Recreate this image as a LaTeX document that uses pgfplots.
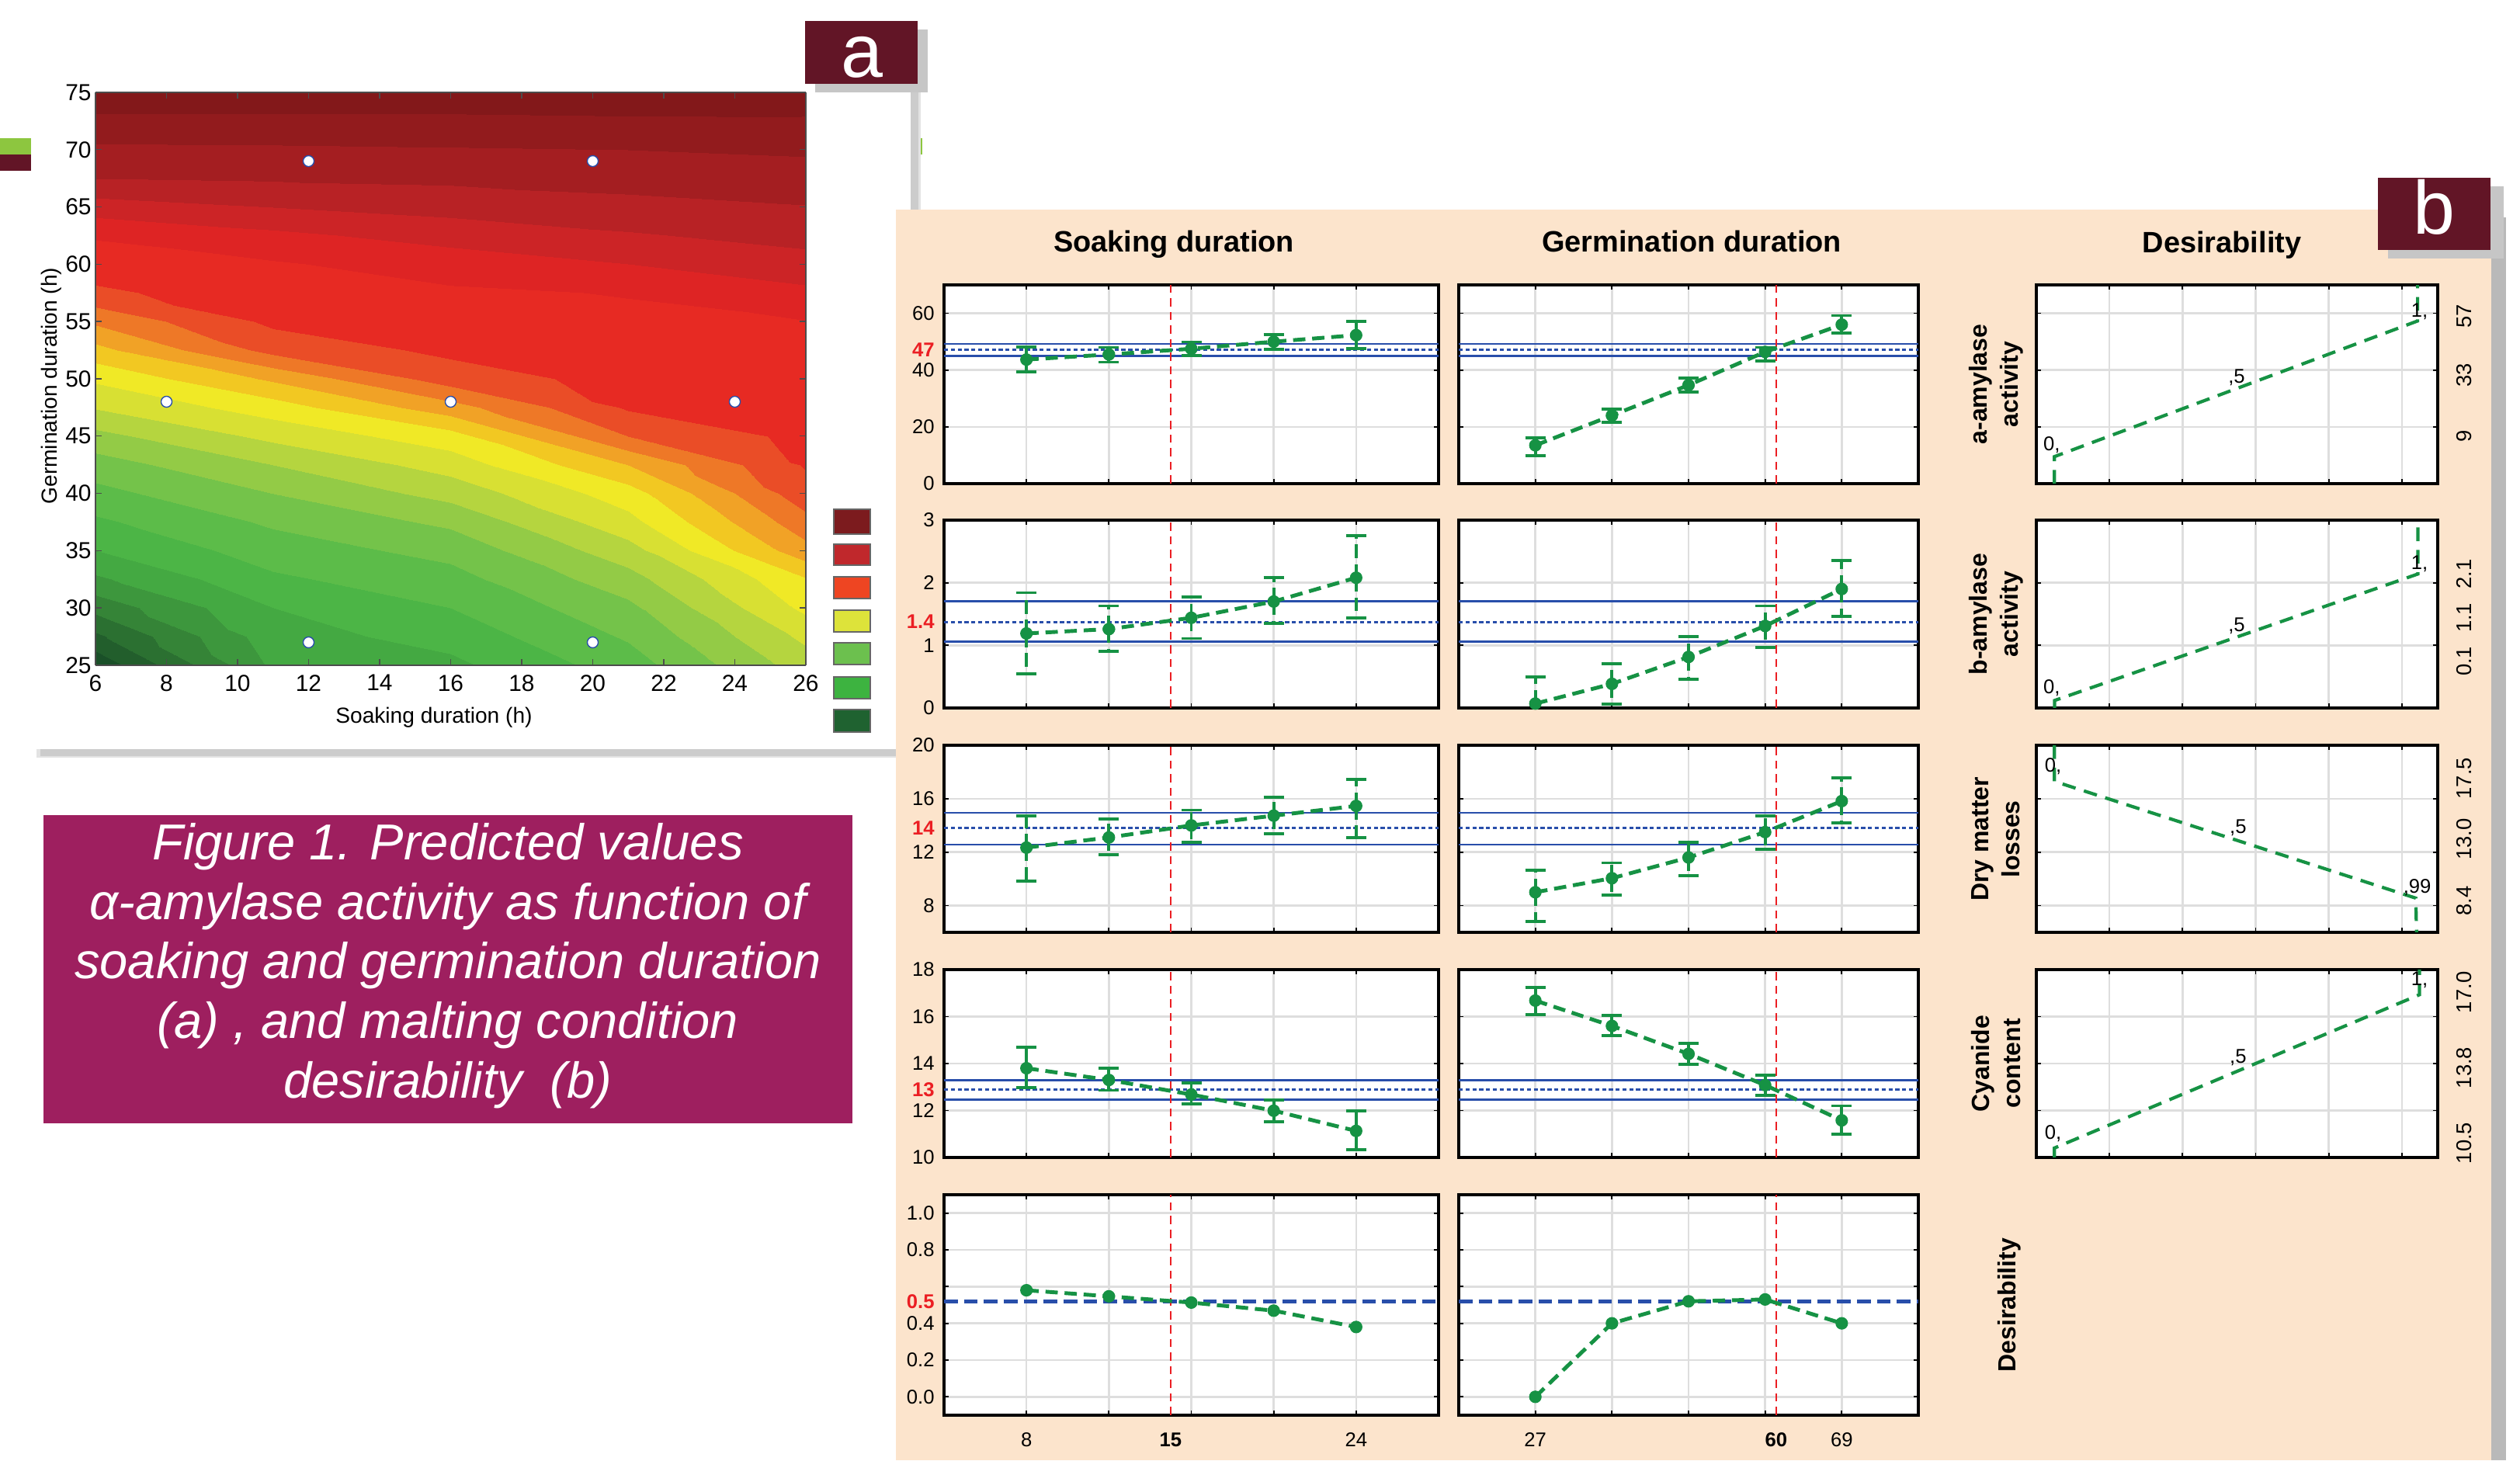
\documentclass[border=0pt]{standalone}
\usepackage{fontspec}
\setmainfont{Liberation Sans}
\usepackage{pgfplots}
\usepackage{pgfplotstable}
\pgfplotsset{compat=1.18}
\definecolor{pgreen}{RGB}{22,146,68}
\definecolor{pblue}{RGB}{40,78,170}
\definecolor{pred}{RGB}{235,30,35}
\definecolor{peach}{RGB}{252,228,204}
\definecolor{maroonbox}{RGB}{98,21,38}
\definecolor{capmag}{RGB}{158,31,95}
\definecolor{gridg}{RGB}{222,222,222}
\definecolor{decogreen}{RGB}{141,198,63}
\newcommand\tickfnt{\fontsize{7.3}{8.8}\selectfont}
\newcommand\rtickfnt{\fontsize{7.8}{9.4}\selectfont}
\newcommand\curvefnt{\fontsize{7.3}{8.8}\selectfont}

\pgfplotsset{
  /pgf/number format/assume math mode=true,
  pb/.style={scale only axis, anchor=south west, clip mode=individual,
    axis background/.style={fill=white},
    axis line style={line width=0.9pt, black},
    grid=major, major grid style={line width=0.7pt, draw=gridg},
    tick align=inside, major tick length=0.06cm, tick style={black, line width=0.5pt},
    tick label style={font=\tickfnt},
    xticklabel style={yshift=-0.1cm},
    xticklabels={}, yticklabels={}},
  cL/.style={xmin=4, xmax=28, xtick={8,12,16,20,24}, width=6.37cm},
  cM/.style={xmin=16.5, xmax=79.5, xtick={27,37.5,48,58.5,69}, width=5.92cm},
  cR/.style={xmin=0, xmax=5.49, xtick={1,2,3,4,5}, width=5.17cm},
  r1/.style={ymin=0, ymax=70, ytick={0,20,40,60}, height=2.56cm},
  r2/.style={ymin=0, ymax=3, ytick={0,1,2,3}, height=2.42cm},
  r3/.style={ymin=6, ymax=20, ytick={8,12,16,20}, height=2.41cm},
  r4/.style={ymin=10, ymax=18, ytick={10,12,14,16,18}, height=2.42cm},
  r5/.style={ymin=-0.1, ymax=1.1, ytick={0,0.2,0.4,0.6,0.8,1}, height=2.84cm},
  redx/.style={extra y tick style={grid=none, major tick length=0pt}},
  ser/.style={pgreen, line width=1.4pt, dash pattern=on 4.5pt off 2.5pt, mark=*, mark size=2.1pt,
    mark options={solid, fill=pgreen, draw=pgreen, line width=0.4pt}},
  eb/.style={error bars/.cd, y dir=both, y explicit,
    error bar style={line width=1.1pt, pgreen, solid},
    error mark options={rotate=90, mark size=3.7pt, line width=1.1pt, pgreen, solid}},
  ebd/.style={error bars/.cd, y dir=both, y explicit,
    error bar style={line width=1.1pt, pgreen, dash pattern=on 5pt off 2.2pt},
    error mark options={rotate=90, mark size=3.7pt, line width=1.1pt, pgreen, solid}},
  bsolid/.style={pblue, line width=0.8pt},
  bdot/.style={pblue, line width=0.9pt, dash pattern=on 1.5pt off 1pt},
  rline/.style={pred, line width=0.6pt, dash pattern=on 3pt off 2pt},
  dcur/.style={pgreen, line width=1.2pt, dash pattern=on 5pt off 3.2pt},
}

% ---------- data: panel b ----------
\pgfplotstableread{
x y lo hi
8 43.7 39.3 48.2
12 45.5 42.8 48.0
16 47.5 45.1 49.9
20 50.0 47.3 52.5
24 52.3 47.5 57.1
}\tLa
\pgfplotstableread{
x y lo hi
27 13.5 9.8 16.2
37.5 24.0 21.7 26.3
48 34.7 32.2 37.2
58.5 46.4 43.2 48.0
69 56.0 53.0 59.2
}\tMa
\pgfplotstableread{
x y lo hi
8 1.19 0.54 1.84
12 1.26 0.91 1.63
16 1.44 1.11 1.77
20 1.70 1.35 2.08
24 2.08 1.44 2.75
}\tLb
\pgfplotstableread{
x y lo hi
27 0.07 -0.36 0.50
37.5 0.385 0.065 0.71
48 0.815 0.46 1.14
58.5 1.31 0.97 1.63
69 1.90 1.46 2.35
}\tMb
\pgfplotstableread{
x y lo hi
8 12.34 9.84 14.73
12 13.1 11.82 14.48
16 14.0 12.76 15.15
20 14.73 13.38 16.1
24 15.46 13.07 17.43
}\tLc
\pgfplotstableread{
x y lo hi
27 9.0 6.8 10.67
37.5 10.05 8.8 11.2
48 11.6 10.26 12.76
58.5 13.5 12.2 14.7
69 15.82 14.2 17.55
}\tMc
\pgfplotstableread{
x y lo hi
8 13.8 12.98 14.68
12 13.3 12.86 13.8
16 12.68 12.27 13.16
20 11.99 11.53 12.46
24 11.13 10.32 11.99
}\tLd
\pgfplotstableread{
x y lo hi
27 16.68 16.09 17.24
37.5 15.6 15.2 16.04
48 14.41 13.97 14.87
58.5 13.08 12.64 13.5
69 11.58 11.0 12.2
}\tMd
\pgfplotstableread{
x y
8 0.58
12 0.547
16 0.513
20 0.469
24 0.38
}\tLe
\pgfplotstableread{
x y
27 0.0
37.5 0.40
48 0.52
58.5 0.53
69 0.40
}\tMe

% ---------- data: panel a (level of the predicted surface read from the map) ----------
\pgfplotstableread{
x y v
6 25 1
11 25 20.7
16 25 23
21 25 30
26 25 42
6 27.5 7.1
11 27.5 22.3
16 27.5 25.5
21 27.5 32.5
26 27.5 45.0
6 30 13.4
11 30 24
16 30 28
21 30 35
26 30 49.0
6 32.5 19.3
11 32.5 27.3
16 32.5 30.5
21 32.5 38.4
26 32.5 51.7
6 35 24
11 35 30
16 35 33.3
21 35 42.4
26 35 58.6
6 37.5 27.3
11 37.5 32.7
16 37.5 36.9
21 37.5 46.7
26 37.5 62.7
6 40 30.7
11 40 36
16 40 41.4
21 40 50.1
26 40 66.5
6 42.5 34.1
11 42.5 40
16 42.5 45.7
21 42.5 56
26 42.5 68.4
6 45 38.7
11 45 45.1
16 45 50.3
21 45 64
26 45 69.1
6 47.5 44.3
11 47.5 50
16 47.5 58.3
21 47.5 68.5
26 47.5 69.8
6 50 48.7
11 50 56.7
16 50 66
21 50 69.4
26 50 70.5
6 52.5 54.7
11 52.5 65.4
16 52.5 68.9
21 52.5 70.3
26 52.5 71.2
6 55 60.8
11 55 68.9
16 55 70.1
21 55 71.2
26 55 71.9
6 57.5 67.3
11 57.5 70.2
16 57.5 71.4
21 57.5 72.2
26 57.5 75.1
6 60 70.0
11 60 71.6
16 60 73.8
21 60 76
26 60 78.5
6 62.5 72.4
11 62.5 75.1
16 62.5 77.6
21 62.5 79.6
26 62.5 81.4
6 65 78.1
11 65 80
16 65 81.4
21 65 82.75
26 65 83.8
6 67.5 84
11 67.5 84.4
16 67.5 84.8
21 67.5 85.5
26 67.5 86.1
6 70 87.2
11 70 87.4
16 70 87.7
21 70 88
26 70 88.6
6 72.5 91.0
11 72.5 91.0
16 72.5 91.0
21 72.5 91.3
26 72.5 91.5
6 75 95
11 75 95
16 75 95
21 75 95
26 75 94.5
}\tContour

\begin{document}
\begin{tikzpicture}[x=1cm,y=1cm]
\useasboundingbox (0,0) rectangle (32.46,18.81);
\fill[white] (0,0) rectangle (32.46,18.81);
% decorative slide bars
\fill[decogreen] (0,16.82) rectangle (0.40,17.03);
\fill[maroonbox] (0,16.61) rectangle (0.40,16.82);
\fill[decogreen] (11.70,16.82) rectangle (11.88,17.03);
% ---------------- panel a ----------------
\fill[gray!22] (0.47,9.05) rectangle (11.86,18.22);
\fill[gray!40] (0.52,9.07) rectangle (11.83,18.18);
\fill[white] (0.41,9.16) rectangle (11.73,18.29);
\begin{axis}[scale only axis, anchor=south west, at={(1.23cm,10.24cm)},
  width=9.15cm, height=7.38cm, view={0}{90},
  xmin=6, xmax=26, ymin=25, ymax=75, zmin=-1, zmax=1,
  xtick={6,8,...,26}, ytick={25,30,...,75}, ztick=\empty,
  tick align=inside, major tick length=0.08cm,
  tick style={black!70, line width=0.4pt},
  tick label style={font=\fontsize{8.5}{10}\selectfont},
  yticklabel style={xshift=0.07cm},
  axis line style={line width=0.5pt, black!70},
  colormap={amy}{
    rgb255(0pt)=(26,80,40); rgb255(4pt)=(34,94,44); rgb255(8pt)=(43,112,49);
    rgb255(12pt)=(53,132,55); rgb255(16pt)=(61,151,61); rgb255(20pt)=(68,169,66);
    rgb255(24pt)=(76,181,70); rgb255(28pt)=(92,188,73); rgb255(32pt)=(116,195,74);
    rgb255(36pt)=(147,203,70); rgb255(40pt)=(181,213,63); rgb255(44pt)=(216,224,51);
    rgb255(48pt)=(240,233,38); rgb255(52pt)=(242,200,34); rgb255(56pt)=(241,162,38);
    rgb255(60pt)=(238,120,39); rgb255(64pt)=(234,77,39); rgb255(68pt)=(231,42,35);
    rgb255(72pt)=(222,36,36); rgb255(76pt)=(204,36,38); rgb255(80pt)=(184,34,37);
    rgb255(84pt)=(164,30,33); rgb255(88pt)=(146,27,29); rgb255(92pt)=(131,24,26);
    rgb255(96pt)=(116,21,22); rgb255(100pt)=(116,21,22)},
  colormap access=piecewise constant,
  point meta min=0, point meta max=100,
  axis on top]
\addplot3[surf, shader=interp, mesh/cols=5, point meta=explicit]
  table[x=x, y=y, z expr=0, meta=v] {\tContour};
\addplot3[only marks, mark=*, mark size=2pt,
  mark options={fill=white, draw=pblue, line width=0.4pt}]
  coordinates {(12,69,0) (20,69,0) (8,48,0) (16,48,0) (24,48,0) (12,27,0) (20,27,0)};
\end{axis}
\node[font=\fontsize{8}{10}\selectfont] at (5.59,9.57) {Soaking duration (h)};
\node[font=\fontsize{8}{10}\selectfont, rotate=90] at (0.66,13.84) {Germination duration (h)};
% colour key
\foreach \ya/\yb/\cc in {11.93/12.25/{124,27,30}, 11.53/11.80/{192,40,44}, 11.10/11.38/{238,69,34},
  10.67/10.95/{221,227,58}, 10.25/10.53/{108,192,78}, 9.81/10.09/{61,179,64}, 9.38/9.67/{31,98,48}}{
  \definecolor{tmpc}{RGB}{\cc}
  \filldraw[fill=tmpc, draw=black!60, line width=0.3pt] (10.74,\ya) rectangle (11.21,\yb);
}
% "a" box
\fill[gray!45] (10.50,17.62) rectangle (11.95,18.43);
\fill[maroonbox] (10.37,17.73) rectangle (11.82,18.54);
\node[white, anchor=base, font=\fontsize{27.6}{30}\selectfont] at (11.10,17.81) {a};
% ---------------- panel b ----------------
\fill[gray!55] (11.66,0) rectangle (32.28,16.01);
\fill[peach] (11.54,0) rectangle (32.09,16.11);
\node[anchor=base, font=\bfseries\fontsize{10.8}{13}\selectfont] at (15.12,15.56) {Soaking duration};
\node[anchor=base, font=\bfseries\fontsize{10.8}{13}\selectfont] at (21.79,15.56) {Germination duration};
\node[anchor=base, font=\bfseries\fontsize{10.8}{13}\selectfont] at (28.62,15.55) {Desirability};

% row 1
\begin{axis}[pb, cL, r1, redx, at={(12.16cm,12.58cm)}, yticklabels={0,20,40,60},
  extra y ticks={47.06}, extra y tick labels={\textcolor{pred}{\textbf{47}}}]
\addplot[bsolid] coordinates {(4,49.2) (28,49.2)};
\addplot[bsolid] coordinates {(4,44.9) (28,44.9)};
\addplot[bdot] coordinates {(4,47.06) (28,47.06)};
\addplot[rline] coordinates {(15,0) (15,70)};
\addplot[ser, eb] table[x=x, y=y, y error plus expr=\thisrow{hi}-\thisrow{y}, y error minus expr=\thisrow{y}-\thisrow{lo}] {\tLa};
\end{axis}
\begin{axis}[pb, cM, r1, at={(18.79cm,12.58cm)}]
\addplot[bsolid] coordinates {(16.5,49.2) (79.5,49.2)};
\addplot[bsolid] coordinates {(16.5,44.9) (79.5,44.9)};
\addplot[bdot] coordinates {(16.5,47.06) (79.5,47.06)};
\addplot[rline] coordinates {(60,0) (60,70)};
\addplot[ser, eb] table[x=x, y=y, y error plus expr=\thisrow{hi}-\thisrow{y}, y error minus expr=\thisrow{y}-\thisrow{lo}] {\tMa};
\end{axis}
\begin{axis}[pb, cR, r1, at={(26.23cm,12.58cm)}]
\addplot[dcur] coordinates {(0.246,0) (0.246,9.5) (5.215,57.3) (5.215,70)};
\node[font=\curvefnt] at (axis cs:0.21,13.7) {0,};
\node[font=\curvefnt] at (axis cs:2.74,37.4) {,5};
\node[font=\curvefnt] at (axis cs:5.24,60.7) {1,};
\node[font=\rtickfnt, rotate=90] at (axis cs:5.85,58.9) {57};
\node[font=\rtickfnt, rotate=90] at (axis cs:5.85,38.2) {33};
\node[font=\rtickfnt, rotate=90] at (axis cs:5.85,16.8) {9};
\end{axis}
\node[rotate=90, align=center, font=\bfseries\fontsize{9.1}{11.4}\selectfont] at (25.71,13.86) {a-amylase\\activity};

% row 2
\begin{axis}[pb, cL, r2, redx, at={(12.16cm,9.69cm)}, yticklabels={0,1,2,3},
  extra y ticks={1.374}, extra y tick labels={\textcolor{pred}{\textbf{1.4}}}]
\addplot[bsolid] coordinates {(4,1.707) (28,1.707)};
\addplot[bsolid] coordinates {(4,1.058) (28,1.058)};
\addplot[bdot] coordinates {(4,1.374) (28,1.374)};
\addplot[rline] coordinates {(15,0) (15,3)};
\addplot[ser, ebd] table[x=x, y=y, y error plus expr=\thisrow{hi}-\thisrow{y}, y error minus expr=\thisrow{y}-\thisrow{lo}] {\tLb};
\end{axis}
\begin{axis}[pb, cM, r2, at={(18.79cm,9.69cm)}]
\addplot[bsolid] coordinates {(16.5,1.707) (79.5,1.707)};
\addplot[bsolid] coordinates {(16.5,1.058) (79.5,1.058)};
\addplot[bdot] coordinates {(16.5,1.374) (79.5,1.374)};
\addplot[rline] coordinates {(60,0) (60,3)};
\addplot[ser, ebd] table[x=x, y=y, y error plus expr=\thisrow{hi}-\thisrow{y}, y error minus expr=\thisrow{y}-\thisrow{lo}] {\tMb};
\end{axis}
\begin{axis}[pb, cR, r2, at={(26.23cm,9.69cm)}]
\addplot[dcur] coordinates {(0.25,0) (0.25,0.12) (5.22,2.14) (5.22,3)};
\node[font=\curvefnt] at (axis cs:0.21,0.32) {0,};
\node[font=\curvefnt] at (axis cs:2.74,1.31) {,5};
\node[font=\curvefnt] at (axis cs:5.24,2.30) {1,};
\node[font=\rtickfnt, rotate=90] at (axis cs:5.85,2.14) {2.1};
\node[font=\rtickfnt, rotate=90] at (axis cs:5.85,1.44) {1.1};
\node[font=\rtickfnt, rotate=90] at (axis cs:5.85,0.745) {0.1};
\end{axis}
\node[rotate=90, align=center, font=\bfseries\fontsize{9.1}{11.4}\selectfont] at (25.71,10.90) {b-amylase\\activity};

% row 3
\begin{axis}[pb, cL, r3, redx, at={(12.16cm,6.80cm)}, yticklabels={8,12,16,20},
  extra y ticks={13.8}, extra y tick labels={\textcolor{pred}{\textbf{14}}}]
\addplot[bsolid] coordinates {(4,14.95) (28,14.95)};
\addplot[bsolid] coordinates {(4,12.56) (28,12.56)};
\addplot[bdot] coordinates {(4,13.8) (28,13.8)};
\addplot[rline] coordinates {(15,6) (15,20)};
\addplot[ser, ebd] table[x=x, y=y, y error plus expr=\thisrow{hi}-\thisrow{y}, y error minus expr=\thisrow{y}-\thisrow{lo}] {\tLc};
\end{axis}
\begin{axis}[pb, cM, r3, at={(18.79cm,6.80cm)}]
\addplot[bsolid] coordinates {(16.5,14.95) (79.5,14.95)};
\addplot[bsolid] coordinates {(16.5,12.56) (79.5,12.56)};
\addplot[bdot] coordinates {(16.5,13.8) (79.5,13.8)};
\addplot[rline] coordinates {(60,6) (60,20)};
\addplot[ser, ebd] table[x=x, y=y, y error plus expr=\thisrow{hi}-\thisrow{y}, y error minus expr=\thisrow{y}-\thisrow{lo}] {\tMc};
\end{axis}
\begin{axis}[pb, cR, r3, at={(26.23cm,6.80cm)}]
\addplot[dcur] coordinates {(0.246,20) (0.246,17.3) (5.19,8.56) (5.2,6)};
\node[font=\curvefnt] at (axis cs:0.23,18.4) {0,};
\node[font=\curvefnt] at (axis cs:2.76,13.85) {,5};
\node[font=\curvefnt] at (axis cs:5.21,9.36) {,99};
\node[font=\rtickfnt, rotate=90] at (axis cs:5.85,17.52) {17.5};
\node[font=\rtickfnt, rotate=90] at (axis cs:5.85,12.97) {13.0};
\node[font=\rtickfnt, rotate=90] at (axis cs:5.85,8.36) {8.4};
\end{axis}
\node[rotate=90, align=center, font=\bfseries\fontsize{9.1}{11.4}\selectfont] at (25.71,8.00) {Dry matter\\losses};

% row 4
\begin{axis}[pb, cL, r4, redx, at={(12.16cm,3.90cm)}, yticklabels={10,12,14,16,18},
  extra y ticks={12.9}, extra y tick labels={\textcolor{pred}{\textbf{13}}}]
\addplot[bsolid] coordinates {(4,13.3) (28,13.3)};
\addplot[bsolid] coordinates {(4,12.46) (28,12.46)};
\addplot[bdot] coordinates {(4,12.9) (28,12.9)};
\addplot[rline] coordinates {(15,10) (15,18)};
\addplot[ser, eb] table[x=x, y=y, y error plus expr=\thisrow{hi}-\thisrow{y}, y error minus expr=\thisrow{y}-\thisrow{lo}] {\tLd};
\end{axis}
\begin{axis}[pb, cM, r4, at={(18.79cm,3.90cm)}]
\addplot[bsolid] coordinates {(16.5,13.3) (79.5,13.3)};
\addplot[bsolid] coordinates {(16.5,12.46) (79.5,12.46)};
\addplot[bdot] coordinates {(16.5,12.9) (79.5,12.9)};
\addplot[rline] coordinates {(60,10) (60,18)};
\addplot[ser, eb] table[x=x, y=y, y error plus expr=\thisrow{hi}-\thisrow{y}, y error minus expr=\thisrow{y}-\thisrow{lo}] {\tMd};
\end{axis}
\begin{axis}[pb, cR, r4, at={(26.23cm,3.90cm)}]
\addplot[dcur] coordinates {(0.246,10) (0.246,10.4) (5.24,16.93) (5.24,18)};
\node[font=\curvefnt] at (axis cs:0.23,11.03) {0,};
\node[font=\curvefnt] at (axis cs:2.76,14.24) {,5};
\node[font=\curvefnt] at (axis cs:5.24,17.55) {1,};
\node[font=\rtickfnt, rotate=90] at (axis cs:5.85,17.03) {17.0};
\node[font=\rtickfnt, rotate=90] at (axis cs:5.85,13.82) {13.8};
\node[font=\rtickfnt, rotate=90] at (axis cs:5.85,10.61) {10.5};
\end{axis}
\node[rotate=90, align=center, font=\bfseries\fontsize{9.1}{11.4}\selectfont] at (25.71,5.11) {Cyanide\\content};

% row 5
\begin{axis}[pb, cL, r5, redx, at={(12.16cm,0.58cm)}, yticklabels={0.0,0.2,0.4,,0.8,1.0},
  extra y ticks={0.52}, extra y tick labels={\textcolor{pred}{\textbf{0.5}}},
  xticklabels={8,,,,24}, extra x ticks={15}, extra x tick labels={\textbf{15}},
  extra x tick style={grid=none, major tick length=0pt}]
\addplot[pblue, line width=1.3pt, dash pattern=on 5pt off 2.3pt] coordinates {(4,0.52) (28,0.52)};
\addplot[rline] coordinates {(15,-0.1) (15,1.1)};
\addplot[ser] table[x=x, y=y] {\tLe};
\end{axis}
\begin{axis}[pb, cM, r5, at={(18.79cm,0.58cm)},
  xticklabels={27,,,,69}, extra x ticks={60}, extra x tick labels={\textbf{60}},
  extra x tick style={grid=none, major tick length=0pt}]
\addplot[pblue, line width=1.3pt, dash pattern=on 5pt off 2.3pt] coordinates {(16.5,0.52) (79.5,0.52)};
\addplot[rline] coordinates {(60,-0.1) (60,1.1)};
\addplot[ser] table[x=x, y=y] {\tMe};
\end{axis}
\node[rotate=90, font=\bfseries\fontsize{9.1}{11.4}\selectfont] at (25.88,2.00) {Desirability};

% "b" box
\fill[gray!45] (30.76,15.48) rectangle (32.25,16.41);
\fill[maroonbox] (30.63,15.59) rectangle (32.08,16.52);
\node[white, anchor=base, font=\fontsize{27.6}{30}\selectfont] at (31.355,15.79) {b};

% ---------------- caption ----------------
\fill[capmag] (0.56,4.34) rectangle (10.98,8.31);
\node[text=white, align=center, font=\itshape\fontsize{18.5}{21.8}\selectfont] at (5.77,6.37)
  {Figure 1. Predicted values\\α-amylase activity as function of\\soaking and germination duration\\(a) , and malting condition\\desirability\ \ (b)};
\end{tikzpicture}
\end{document}
